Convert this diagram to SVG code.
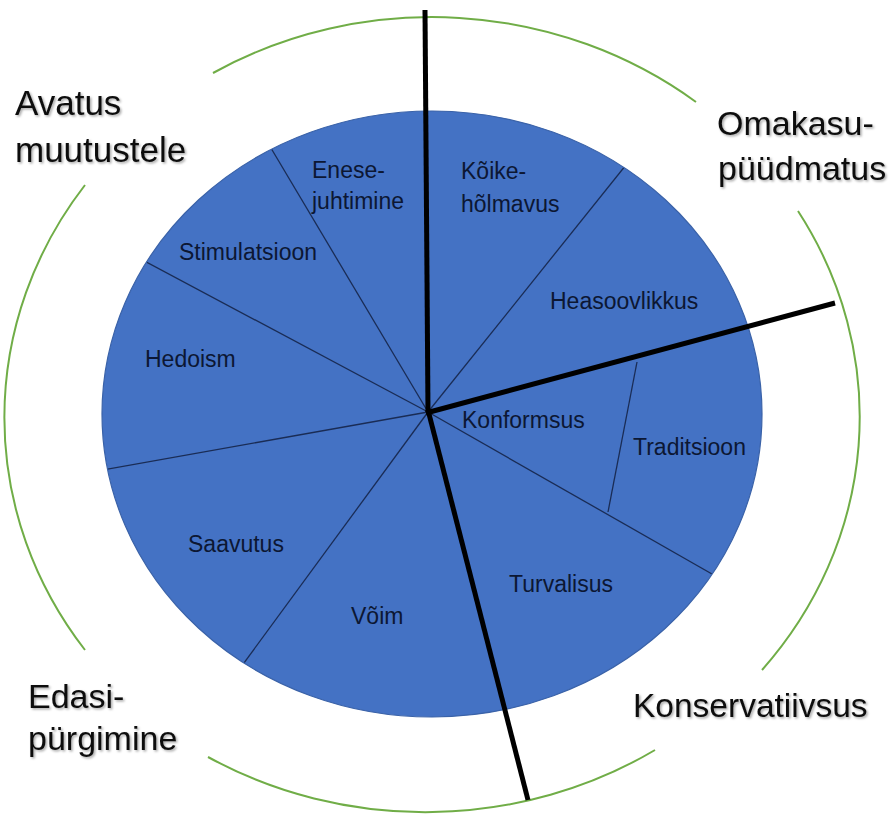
<svg xmlns="http://www.w3.org/2000/svg" width="890" height="814" viewBox="0 0 890 814">
<defs>
<clipPath id="ellClip"><ellipse cx="432" cy="414" rx="330" ry="303"/></clipPath>
<filter id="shadow" x="-10%" y="-20%" width="130%" height="160%">
<feDropShadow dx="1.5" dy="1.5" stdDeviation="1.2" flood-color="#000" flood-opacity="0.35"/>
</filter>
<style>
.arc{fill:none;stroke:#70AD47;stroke-width:2}
.spoke{stroke:#1a2c55;stroke-width:1.3;fill:none}
.thick{stroke:#000;stroke-width:5;stroke-linecap:butt;fill:none}
.inner{font-family:"Liberation Sans",Arial,sans-serif;font-size:23px;fill:#0c1733}
.outer{font-family:"Liberation Sans",Arial,sans-serif;font-size:34px;fill:#111;filter:url(#shadow)}
</style>
</defs>
<rect width="890" height="814" fill="#fff"/>
<g id="outer-ring">
<path class="arc" d="M 213 73 A 428 398 0 0 1 696 102"/>
<path class="arc" d="M 798 211 A 428 398 0 0 1 762 670"/>
<path class="arc" d="M 655 750 A 428 398 0 0 1 208 757"/>
<path class="arc" d="M 85 650 A 428 398 0 0 1 85 185"/>
</g>
<g id="circle">
<ellipse cx="432" cy="414" rx="330" ry="303" fill="#4472C4"/>
</g>
<g id="connectors">
<g clip-path="url(#ellClip)">
<line class="spoke" x1="428" y1="412" x2="262" y2="133"/>
<line class="spoke" x1="428" y1="412" x2="120" y2="248"/>
<line class="spoke" x1="428" y1="412" x2="80" y2="474"/>
<line class="spoke" x1="428" y1="412" x2="230" y2="682"/>
<line class="spoke" x1="428" y1="412" x2="740" y2="590"/>
<line class="spoke" x1="428" y1="412" x2="650" y2="135"/>
</g>
<line class="spoke" x1="637" y1="362" x2="608" y2="512"/>
<ellipse cx="432" cy="414" rx="330" ry="303" fill="none" stroke="#3a62a8" stroke-width="1.2"/>
<line class="thick" x1="428" y1="412" x2="425" y2="10"/>
<line class="thick" x1="426" y1="413" x2="835" y2="303"/>
<line class="thick" x1="428" y1="410" x2="528" y2="800"/>
</g>
<g id="enesejuhtimine"><text class="inner" x="312" y="178">Enese-</text><text class="inner" x="312" y="209">juhtimine</text></g>
<g id="koikeholmavus"><text class="inner" x="461" y="179">Kõike-</text><text class="inner" x="461" y="212">hõlmavus</text></g>
<g id="stimulatsioon"><text class="inner" x="179" y="260">Stimulatsioon</text></g>
<g id="heasoovlikkus"><text class="inner" x="550" y="309">Heasoovlikkus</text></g>
<g id="hedoism"><text class="inner" x="145" y="367">Hedoism</text></g>
<g id="konformsus"><text class="inner" x="462" y="428">Konformsus</text></g>
<g id="traditsioon"><text class="inner" x="633" y="455">Traditsioon</text></g>
<g id="saavutus"><text class="inner" x="188" y="552">Saavutus</text></g>
<g id="voim"><text class="inner" x="351" y="624">Võim</text></g>
<g id="turvalisus"><text class="inner" x="509" y="592">Turvalisus</text></g>
<g id="avatus"><text class="outer" x="15" y="115" style="font-size:35px">Avatus</text><text class="outer" x="15" y="162" style="font-size:35px">muutustele</text></g>
<g id="omakasu"><text class="outer" x="717" y="135">Omakasu-</text><text class="outer" x="718" y="180">püüdmatus</text></g>
<g id="edasi"><text class="outer" x="28" y="708">Edasi-</text><text class="outer" x="28" y="750">pürgimine</text></g>
<g id="konservatiivsus"><text class="outer" x="633" y="717" style="font-size:33.5px">Konservatiivsus</text></g>
</svg>
